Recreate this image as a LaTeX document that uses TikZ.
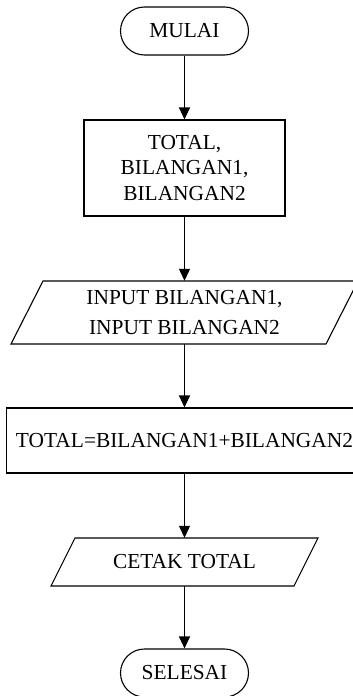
\documentclass[tikz,border=0pt]{standalone}
\usepackage{fontspec}
\setmainfont{Liberation Serif}
\usetikzlibrary{arrows.meta}
\begin{document}
\begin{tikzpicture}[x=1pt,y=-1pt,
  term/.style={draw, line width=1.1pt, rounded corners=24pt, minimum width=128pt,
    minimum height=48pt, inner sep=0pt, font=\fontsize{21.4}{25}\selectfont},
  procbox/.style={draw, line width=1.1pt, inner sep=0pt, align=center},
  iotext/.style={inner sep=0pt, align=center},
  ioshape/.style={draw, line width=1.1pt, line join=miter},
  flow/.style={line width=1.1pt, -{Triangle[length=12pt,width=11pt]}}]
  % page
  \fill[white] (0,0) rectangle (353,696);
  \useasboundingbox (0,0) rectangle (353,696);

  % start
  \node[term] (start) at (184.5,31) {MULAI};

  % declaration
  \node[procbox, minimum width=201pt, minimum height=96pt,
    font=\fontsize{21.4}{25.5}\selectfont] (decl) at (184.5,168)
    {TOTAL,\\BILANGAN1,\\BILANGAN2};

  % input
  \draw[ioshape] (11,344) -- (43,281) -- (358,281) -- (326,344) -- cycle;
  \node[iotext, minimum width=240pt, minimum height=63pt,
    font=\fontsize{21.4}{30}\selectfont] (input) at (184.5,312.5)
    {INPUT BILANGAN1,\\INPUT BILANGAN2};

  % computation
  \node[procbox, minimum width=356pt, minimum height=65pt,
    font=\fontsize{21.4}{25}\selectfont] (calc) at (184.5,440.5)
    {TOTAL=BILANGAN1+BILANGAN2};

  % output
  \draw[ioshape] (51,586) -- (75,538) -- (318,538) -- (294,586) -- cycle;
  \node[iotext, minimum width=200pt, minimum height=48pt,
    font=\fontsize{21.4}{25}\selectfont] (print) at (184.5,562) {CETAK TOTAL};

  % end
  \node[term] (stop) at (184.5,673) {SELESAI};

  % connectors
  \draw[flow] (start.south) -- (decl.north);
  \draw[flow] (decl.south) -- (input.north);
  \draw[flow] (input.south) -- (calc.north);
  \draw[flow] (calc.south) -- (print.north);
  \draw[flow] (print.south) -- (stop.north);
\end{tikzpicture}
\end{document}
